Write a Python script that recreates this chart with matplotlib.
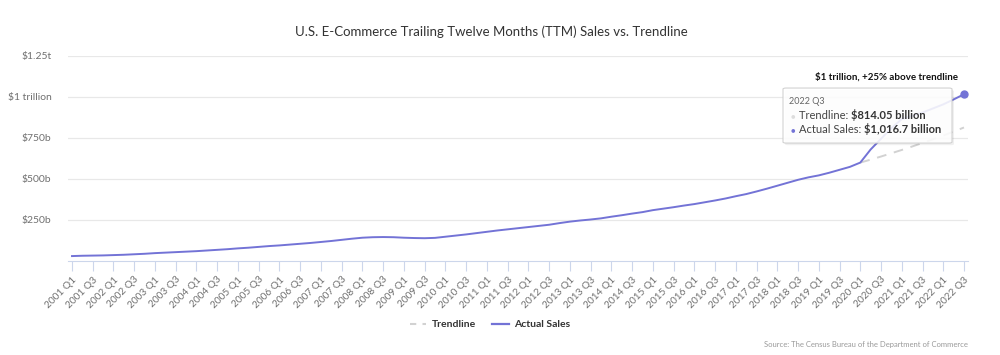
import matplotlib
matplotlib.use("Agg")
import matplotlib.pyplot as plt
from matplotlib.lines import Line2D
from matplotlib.patches import FancyBboxPatch

plt.rcParams['font.family'] = ['Lato', 'DejaVu Sans']

# quarters 2001 Q1 .. 2022 Q3
years = list(range(2001, 2023))
quarters = [f"{y} Q{q}" for y in years for q in (1, 2, 3, 4)][:87]

# TTM sales, billions USD
actual_sales = [
    30, 32, 33, 34,        # 2001
    36, 38, 41, 44,        # 2002
    48, 51, 54, 57,        # 2003
    60, 64, 68, 72,        # 2004
    77, 81, 86, 91,        # 2005
    95, 100, 105, 110,     # 2006
    116, 122, 129, 136,    # 2007
    142, 145, 146, 145,    # 2008
    142, 140, 139, 141,    # 2009
    148, 155, 162, 170,    # 2010
    178, 186, 193, 200,    # 2011
    207, 214, 221, 231,    # 2012
    240, 247, 253, 260,    # 2013
    270, 279, 289, 298,    # 2014
    310, 319, 328, 338,    # 2015
    347, 358, 369, 381,    # 2016
    395, 408, 424, 441,    # 2017
    459, 477, 495, 510,    # 2018
    522, 538, 556, 574,    # 2019
    600, 680, 745, 810,    # 2020
    865, 885, 905, 930,    # 2021
    955, 985, 1016.7,      # 2022
]
trend_start = "2020 Q1"
trendline = [600, 618, 637, 657, 677, 698, 720, 742, 765, 789, 814.05]

ytick_values = [250, 500, 750, 1000, 1250]
ytick_labels = ["$250b", "$500b", "$750b", "$1 trillion", "$1.25t"]

line_color = "#7373d6"
trend_color = "#d2d2d2"

fig = plt.figure(figsize=(10, 3.55), dpi=100)
ax = fig.add_axes([0.068, 0.2648, 0.9, 0.5775])

x = list(range(len(actual_sales)))
t0 = quarters.index(trend_start)
xt = list(range(t0, t0 + len(trendline)))

ax.plot(xt, trendline, color=trend_color, lw=1.4, ls=(0, (5, 4)), zorder=2)
ax.plot(x, actual_sales, color=line_color, lw=1.4, zorder=3)
ax.plot(x[-1], actual_sales[-1], "o", color=line_color, ms=5, zorder=4)

ax.set_xlim(-0.386, len(actual_sales) - 1 + 0.386)
ax.set_ylim(0, 1250)

ax.set_yticks(ytick_values)
ax.set_yticklabels(ytick_labels)
ax.set_xticks(x[::2])
ax.set_xticklabels(quarters[::2], rotation=45, ha="right", rotation_mode="anchor")

ax.grid(axis="y", color="#e8e8e8", lw=0.9)
ax.set_axisbelow(True)
for s in ("top", "right", "left"):
    ax.spines[s].set_visible(False)
ax.spines["bottom"].set_color("#ccd6eb")
ax.tick_params(axis="y", length=0, pad=12, labelsize=7.5, labelcolor="#707070")
ax.tick_params(axis="x", length=7, color="#ccd6eb", pad=3, labelsize=7.3, labelcolor="#707070")

fig.text(0.491, 0.912, "U.S. E-Commerce Trailing Twelve Months (TTM) Sales vs. Trendline",
         ha="center", va="center", fontsize=9.5, color="#333333")

# annotation at last point
ax.annotate("$1 trillion, +25% above trendline", (x[-1], actual_sales[-1]),
            xytext=(-4, 9), textcoords="offset points", ha="right", va="bottom",
            fontsize=7, fontweight="bold", color="#111111")

# tooltip
shadow = FancyBboxPatch((0.785, 0.591), 0.169, 0.155, boxstyle="round,pad=0,rounding_size=0.003",
                        transform=fig.transFigure, facecolor="#000000", edgecolor="none",
                        alpha=0.06, zorder=9)
fig.patches.append(shadow)
box = FancyBboxPatch((0.783, 0.597), 0.169, 0.155, boxstyle="round,pad=0,rounding_size=0.003",
                     transform=fig.transFigure, facecolor="white", edgecolor="#cccccc",
                     lw=0.8, alpha=0.88, zorder=10)
fig.patches.append(box)
fig.text(0.789, 0.713, "2022 Q3", fontsize=6.5, color="#666666", va="center", zorder=11)
renderer = fig.canvas.get_renderer()
rows = [("Trendline: ", f"${trendline[-1]:,.2f} billion", "#dddddd", 0.675),
        ("Actual Sales: ", f"${actual_sales[-1]:,.1f} billion", line_color, 0.636)]
for label, value, c, yy in rows:
    fig.text(0.791, yy, "\u25CF", fontsize=5.5, color=c, va="center", zorder=11)
    t = fig.text(0.799, yy, label, fontsize=8, color="#444444", va="center", zorder=11)
    bb = t.get_window_extent(renderer)
    fig.text(bb.x1 / fig.bbox.width, yy, value, fontsize=8, fontweight="bold",
             color="#333333", va="center", zorder=11)

handles = [Line2D([], [], color=trend_color, lw=1.5, ls=(0, (3, 3))),
           Line2D([], [], color=line_color, lw=1.6)]
leg = fig.legend(handles, ["Trendline", "Actual Sales"], loc="center", bbox_to_anchor=(0.49, 0.085),
                 ncol=2, frameon=False, handlelength=1.6, columnspacing=1.6, handletextpad=0.5,
                 prop={"size": 7.5, "weight": "bold"})
for txt in leg.get_texts():
    txt.set_color("#333333")

fig.text(0.968, 0.03, "Source: The Census Bureau of the Department of Commerce",
         ha="right", va="center", fontsize=5.5, color="#999999")

fig.savefig("out.png", dpi=100, facecolor="white")
